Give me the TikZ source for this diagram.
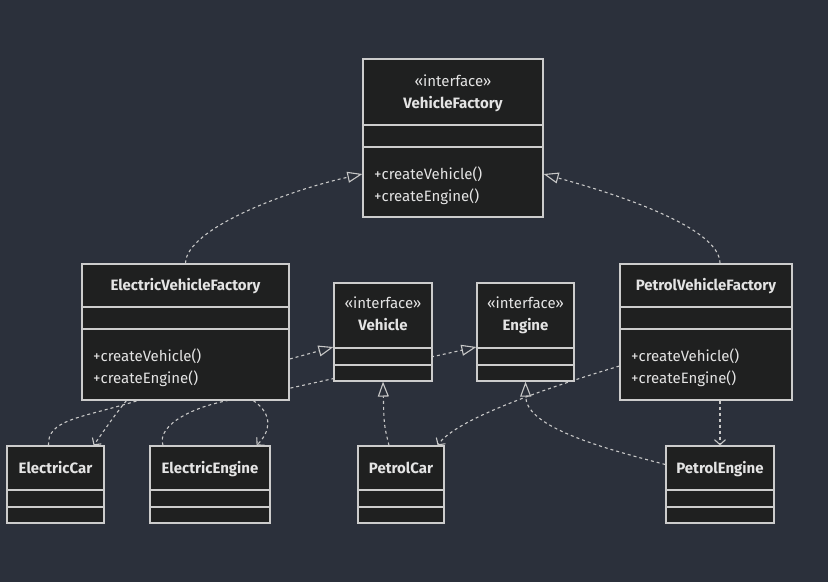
\documentclass[tikz,border=0pt]{standalone}
\usepackage{fontspec}
\setmainfont{Fira Sans}
\usetikzlibrary{arrows.meta,calc}
\definecolor{bgcol}{HTML}{2B303B}
\definecolor{boxfill}{HTML}{1F2020}
\definecolor{boxline}{HTML}{CCCCCC}
\definecolor{edgecol}{HTML}{C8C8C8}
\definecolor{txtcol}{HTML}{E4E4E4}
\pgfdeclarelayer{bg}
\pgfdeclarelayer{edges}
\pgfsetlayers{bg,edges,main}
\tikzset{
  classbox/.style={draw=boxline,fill=boxfill,line width=1.2pt,inner sep=0pt},
  divider/.style={draw=boxline,line width=1.2pt},
  ttl/.style={text=txtcol,font=\fontsize{15}{17}\selectfont\bfseries,inner sep=0pt,anchor=base},
  stereo/.style={text=txtcol,font=\fontsize{15}{17}\selectfont,inner sep=0pt,anchor=base},
  member/.style={text=txtcol,font=\fontsize{15}{17}\selectfont,inner sep=0pt,anchor=base west},
  realize/.style={draw=edgecol,line width=1.1pt,dash pattern=on 3pt off 3pt,
    -{Triangle[open,length=15pt,width=11pt]}},
  depend/.style={draw=edgecol,line width=1.1pt,dash pattern=on 3pt off 3pt,
    -{Straight Barb[length=5pt,width=11pt]}},
}

\begin{document}
\begin{tikzpicture}[x=1pt,y=-1pt]
\begin{pgfonlayer}{bg}
\fill[bgcol] (0,0) rectangle (828,582);
\end{pgfonlayer}
\useasboundingbox (0,0) rectangle (828,582);
% ---- interfaces ----
\node[classbox,minimum width=180pt,minimum height=158pt] (vf) at (453,138) {};
\node[stereo] (vf-st) at (453,86) {«interface»};
\node[ttl] (vf-name) at (453,108) {VehicleFactory};
\node[member] (vf-m1) at (374,179) {+createVehicle()};
\node[member] (vf-m2) at (374,201) {+createEngine()};
\node[classbox,minimum width=98pt,minimum height=98pt] (veh) at (383,332) {};
\node[stereo] (veh-st) at (383,308) {«interface»};
\node[ttl] (veh-name) at (383,330) {Vehicle};
\node[classbox,minimum width=97pt,minimum height=98pt] (eng) at (525.5,332) {};
\node[stereo] (eng-st) at (525.5,308) {«interface»};
\node[ttl] (eng-name) at (525.5,330) {Engine};
% ---- factories ----
\node[classbox,minimum width=207pt,minimum height=136pt] (evf) at (185.5,332) {};
\node[ttl] (evf-name) at (185.5,290) {ElectricVehicleFactory};
\node[member] (evf-m1) at (93,361) {+createVehicle()};
\node[member] (evf-m2) at (93,383) {+createEngine()};
\node[classbox,minimum width=172pt,minimum height=136pt] (pvf) at (706,332) {};
\node[ttl] (pvf-name) at (706,290) {PetrolVehicleFactory};
\node[member] (pvf-m1) at (631,361) {+createVehicle()};
\node[member] (pvf-m2) at (631,383) {+createEngine()};
% ---- products ----
\foreach \n/\x/\w/\t in {ecar/55.5/97/ElectricCar,eeng/210/120/ElectricEngine,
    pcar/401/86/PetrolCar,peng/720/108/PetrolEngine}{
  \node[classbox,minimum width=\w pt,minimum height=77pt] (\n) at (\x,484.5) {};
  \node[ttl] (\n-name) at (\x,473) {\t};}
% ---- compartments ----
\foreach \n/\a/\b in {vf/125/147,evf/307/329,pvf/307/329,veh/348/365,eng/348/365,
    ecar/490/507,eeng/490/507,pcar/490/507,peng/490/507}{
  \draw[divider] (\n.west |- 0,\a) -- (\n.east |- 0,\a);
  \draw[divider] (\n.west |- 0,\b) -- (\n.east |- 0,\b);}
% ---- relations ----
\begin{pgfonlayer}{edges}
\draw[realize] (evf.north) .. controls (186,228) and (290,190) .. ($(vf.west)+(0,36)$);
\draw[realize] ($(pvf.north)+(14,0)$) .. controls (720,228) and (620,195) .. ($(vf.east)+(0,36)$);
\draw[realize] ($(ecar.north)+(-7,0)$) .. controls (47,420) and (80,418) .. (133,402)
  -- ($(veh.west)+(0,15)$);
\draw[realize] ($(eeng.north)+(-47,0)$) .. controls (156,425) and (195,403) .. (250,397)
  -- ($(eng.west)+(0,15)$);
\draw[realize] ($(pcar.north)+(-12,0)$) .. controls (384,425) .. (veh.south);
\draw[realize] ($(peng.west)+(0,-20)$) .. controls (590,445) and (526,425) .. (eng.south);
\draw[depend] ($(evf.south west)+(45,0)$) .. controls (115,415) .. ($(ecar.north east)+(-11,0)$);
\draw[depend] ($(evf.south west)+(172,0)$) .. controls (274,415) and (270,432)
  .. ($(eeng.north east)+(-14,0)$);
\draw[depend] ($(pvf.west)+(0,34)$) .. controls (540,390) and (455,420)
  .. ($(pcar.north east)+(-7,0)$);
\draw[depend] (peng.north |- pvf.south) -- (peng.north);
\end{pgfonlayer}
\end{tikzpicture}
\end{document}
